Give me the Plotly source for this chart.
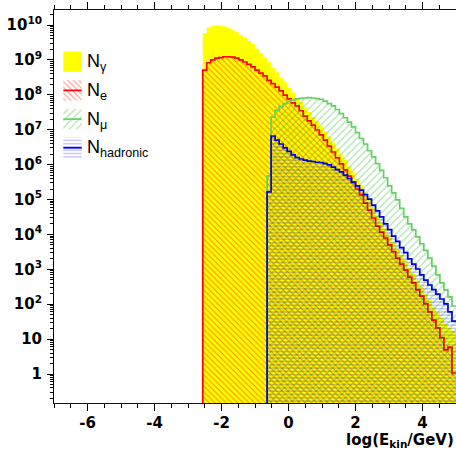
import plotly.graph_objects as go

# ---------------- histogram definition ----------------
BIN_LOW = -7.0          # lower edge of the histogram (log10 E/GeV)
BIN_WIDTH = 0.12        # 100 bins from -7 to 5
FIRST_BIN_GAMMA = 37
FIRST_BIN_E = 37
FIRST_BIN_MU = 53
FIRST_BIN_HAD = 53

# ---------------- data (counts per bin) ----------------
n_gamma = [5.8e9, 8.5e9, 9.3e9, 9.8e9, 9.5e9, 9.1e9, 8.1e9, 7.1e9, 6.2e9, 5.1e9,
           4.4e9, 3.5e9, 2.8e9, 2.1e9, 1.55e9, 1.15e9, 8.5e8, 6.0e8, 4.4e8, 3.1e8,
           2.3e8, 1.6e8, 1.17e8, 8.3e7, 6.2e7, 4.5e7, 3.2e7, 2.3e7, 1.74e7, 1.26e7,
           9.1e6, 6.3e6, 4.3e6, 2.9e6, 1.95e6, 1.35e6, 8.9e5, 6.0e5, 3.9e5, 2.6e5,
           1.58e5, 9.8e4, 5.9e4, 3.5e4, 2.2e4, 1.48e4, 9.5e3, 6.0e3, 3.9e3, 2.6e3,
           1.78e3, 1.1e3, 740, 480, 320, 204, 129, 85, 59, 40,
           28, 21, 17]

n_e = [5.1e8, 8.3e8, 1.0e9, 1.12e9, 1.17e9, 1.23e9, 1.23e9, 1.2e9, 1.12e9, 1.0e9,
       8.7e8, 7.4e8, 6.3e8, 5.1e8, 4.2e8, 3.5e8, 2.6e8, 2.1e8, 1.66e8, 1.29e8,
       9.8e7, 7.6e7, 5.9e7, 4.8e7, 3.5e7, 2.45e7, 1.78e7, 1.35e7, 9.8e6, 7.1e6,
       5.0e6, 3.4e6, 2.3e6, 1.55e6, 1.05e6, 7.1e5, 4.7e5, 3.2e5, 2.0e5, 1.35e5,
       7.9e4, 5.0e4, 2.95e4, 1.74e4, 1.17e4, 7.9e3, 5.0e3, 3.2e3, 2.1e3, 1.41e3,
       950, 600, 410, 257, 170, 102, 60, 35, 21, 11,
       4.9, 5.9, 1.07]

n_mu = [4.8e5, 2.3e7, 3.6e7, 4.6e7, 5.6e7, 6.5e7, 7.1e7, 7.6e7, 7.9e7, 8.1e7,
        8.3e7, 8.1e7, 7.8e7, 7.4e7, 6.6e7, 5.6e7, 4.8e7, 3.8e7, 2.9e7, 2.2e7,
        1.66e7, 1.2e7, 8.3e6, 5.6e6, 3.9e6, 2.5e6, 1.66e6, 1.07e6, 6.8e5, 4.2e5,
        2.45e5, 1.55e5, 9.8e4, 5.6e4, 3.2e4, 2.0e4, 1.35e4, 8.5e3, 5.4e3, 3.5e3,
        2.1e3, 1.23e3, 690, 410, 257, 162, 89]

n_had = [1.66e5, 6.6e6, 5.0e6, 3.9e6, 3.0e6, 2.4e6, 1.9e6, 1.58e6, 1.45e6, 1.35e6,
         1.26e6, 1.23e6, 1.17e6, 1.15e6, 1.07e6, 9.8e5, 8.5e5, 7.2e5, 6.2e5, 5.0e5,
         4.0e5, 3.1e5, 2.45e5, 1.86e5, 1.38e5, 1.02e5, 6.9e4, 4.7e4, 3.2e4, 2.0e4,
         1.38e4, 8.9e3, 6.3e3, 4.2e3, 3.0e3, 2.0e3, 1.41e3, 1.02e3, 690, 490,
         355, 263, 195, 141, 102, 60, 33]

legend_labels = ["N<sub>γ</sub>", "N<sub>e</sub>", "N<sub>μ</sub>", "N<sub>hadronic</sub>"]

x_tick_vals = [-6, -4, -2, 0, 2, 4]
x_tick_text = ["-6", "-4", "-2", "0", "2", "4"]
y_tick_exps = list(range(0, 11))
y_tick_text = ["1", "10"] + ["10<sup>%d</sup>" % e for e in range(2, 11)]

# ---------------- styling ----------------
X_RANGE = [-7, 5]
Y_RANGE_LOG = [-0.83, 10.43]
FLOOR = 1e-3   # below visible range: histogram baseline

YELLOW = "#ffff00"
RED = "#ff0000"
RED_HATCH = "rgba(255,0,0,0.45)"
GREEN = "#66d066"
GREEN_HATCH = "rgba(0,170,0,0.32)"
BLUE = "#0000ee"
BLUE_HATCH = "rgba(0,0,255,0.30)"

W, H = 456, 452
M_L, M_R, M_T, M_B = 54, 0, 10, 49


def step_path(first_bin, counts, close=True):
    xs, ys = [], []
    x0 = BIN_LOW + BIN_WIDTH * first_bin
    xs.append(x0)
    ys.append(FLOOR)
    for i, v in enumerate(counts):
        xl = BIN_LOW + BIN_WIDTH * (first_bin + i)
        xr = xl + BIN_WIDTH
        xs += [xl, xr]
        ys += [v, v]
    if close:
        xs.append(xs[-1])
        ys.append(FLOOR)
    return xs, ys


fig = go.Figure()

# gamma: solid yellow
gx, gy = step_path(FIRST_BIN_GAMMA, n_gamma)
fig.add_trace(go.Scatter(x=gx, y=gy, mode="lines", fill="toself", fillcolor=YELLOW,
                         line=dict(width=0, color=YELLOW), hoverinfo="skip", showlegend=False))


def add_hatched(first_bin, counts, line_color, hatch_color, shape, size, solidity, lw):
    fx, fy = step_path(first_bin, counts)
    fig.add_trace(go.Scatter(x=fx, y=fy, mode="lines", fill="toself",
                             fillpattern=dict(shape=shape, fgcolor=hatch_color,
                                              bgcolor="rgba(0,0,0,0)", size=size,
                                              solidity=solidity, fillmode="replace"),
                             line=dict(width=0, color=line_color), hoverinfo="skip",
                             showlegend=False))
    lx, ly = step_path(first_bin, counts, close=False)
    fig.add_trace(go.Scatter(x=lx, y=ly, mode="lines", line=dict(width=lw, color=line_color),
                             hoverinfo="skip", showlegend=False))


add_hatched(FIRST_BIN_E, n_e, RED, RED_HATCH, "\\", 4, 0.28, 1.7)
add_hatched(FIRST_BIN_MU, n_mu, GREEN, GREEN_HATCH, "/", 5, 0.25, 1.7)
add_hatched(FIRST_BIN_HAD, n_had, BLUE, BLUE_HATCH, "-", 3.3, 0.33, 1.7)

# ---------------- legend (drawn on an overlay axis in pixel units) ----------------
LEG_X0, LEG_X1 = 63.3, 81.7
LEG_ROW0, LEG_DY, LEG_HALF = 61.7, 28.7, 10.2
leg_styles = [
    dict(fill=YELLOW, pattern=None, line=None),
    dict(fill=None, pattern=dict(shape="\\", fgcolor=RED_HATCH, size=4, solidity=0.28), line=RED),
    dict(fill=None, pattern=dict(shape="/", fgcolor=GREEN_HATCH, size=5, solidity=0.25), line=GREEN),
    dict(fill=None, pattern=dict(shape="-", fgcolor=BLUE_HATCH, size=3.3, solidity=0.33), line=BLUE),
]
for i, st in enumerate(leg_styles):
    yc = LEG_ROW0 + LEG_DY * i
    bx = [LEG_X0, LEG_X1, LEG_X1, LEG_X0, LEG_X0]
    by = [yc - LEG_HALF, yc - LEG_HALF, yc + LEG_HALF, yc + LEG_HALF, yc - LEG_HALF]
    kw = dict(x=bx, y=by, xaxis="x2", yaxis="y2", mode="lines", fill="toself",
              line=dict(width=0), hoverinfo="skip", showlegend=False)
    if st["fill"]:
        kw["fillcolor"] = st["fill"]
    else:
        p = dict(st["pattern"])
        p.update(bgcolor="rgba(0,0,0,0)", fillmode="replace")
        kw["fillpattern"] = p
    fig.add_trace(go.Scatter(**kw))
    if st["line"]:
        fig.add_trace(go.Scatter(x=[LEG_X0, LEG_X1], y=[yc, yc], xaxis="x2", yaxis="y2",
                                 mode="lines", line=dict(width=1.7, color=st["line"]),
                                 hoverinfo="skip", showlegend=False))
    fig.add_annotation(x=LEG_X1 + 3, y=yc + 1, xref="x2", yref="y2", text=legend_labels[i],
                       showarrow=False, xanchor="left", yanchor="middle",
                       font=dict(family="Liberation Sans", size=18, color="black"))

# x-axis title
fig.add_annotation(x=1.0, y=-0.066, xref="paper", yref="paper",
                   text="log(E<sub>kin</sub>/GeV)", showarrow=False,
                   xanchor="right", yanchor="top",
                   font=dict(family="DejaVu Sans", size=15, color="black", weight="bold"))

tickfont = dict(family="DejaVu Sans", size=15, color="black", weight="bold")

x_minor = [BIN_LOW + 0.5 * k for k in range(0, 25) if (BIN_LOW + 0.5 * k) not in x_tick_vals]
y_minor = [m * 10 ** e for e in range(-1, 11) for m in range(2, 10)]

fig.update_layout(
    width=W, height=H,
    margin=dict(l=M_L, r=M_R, t=M_T, b=M_B, pad=0),
    paper_bgcolor="white", plot_bgcolor="white",
    showlegend=False,
    xaxis=dict(range=X_RANGE, showgrid=False, zeroline=False, showline=True,
               linecolor="#101030", linewidth=1.2, mirror="ticks",
               ticks="outside", ticklen=7, tickwidth=1, tickcolor="black",
               tickmode="array", tickvals=x_tick_vals, ticktext=x_tick_text,
               tickfont=tickfont, ticklabelstandoff=-1,
               minor=dict(tickmode="array", tickvals=x_minor, ticks="outside",
                          ticklen=4, tickcolor="black", tickwidth=1, showgrid=False)),
    yaxis=dict(type="log", range=Y_RANGE_LOG, showgrid=False, zeroline=False, showline=True,
               linecolor="black", linewidth=1, mirror=False,
               ticks="outside", ticklen=6, tickwidth=1, tickcolor="black",
               tickmode="array", tickvals=[10 ** e for e in y_tick_exps], ticktext=y_tick_text,
               tickfont=tickfont, ticklabelstandoff=2,
               minor=dict(tickmode="array", tickvals=y_minor, ticks="outside",
                          ticklen=3, tickcolor="black", tickwidth=1, showgrid=False)),
    xaxis2=dict(overlaying="x", range=[M_L, W - M_R], visible=False, fixedrange=True),
    yaxis2=dict(overlaying="y", range=[H - M_B, M_T], visible=False, fixedrange=True),
)

fig.write_html("out.html")
